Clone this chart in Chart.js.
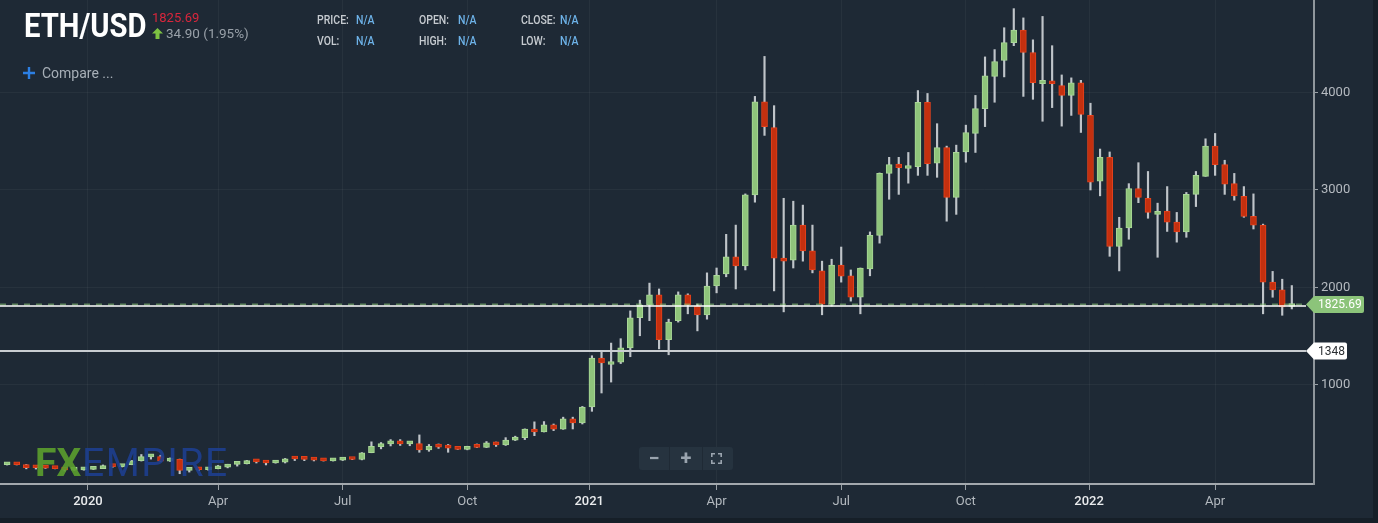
<!DOCTYPE html>
<html>
<head>
<meta charset="utf-8">
<script src="https://cdn.jsdelivr.net/npm/chart.js@4.4.1/dist/chart.umd.min.js"></script>
<style>
  html, body { margin: 0; padding: 0; width: 1378px; height: 523px; overflow: hidden; background: #161f28; font-family: Roboto, sans-serif; }
  #wrap { position: absolute; left: 0; top: 0; width: 1373px; height: 518px; background: #1e2935; }
  #chart { position: absolute; left: 0; top: 0; }
  .t { position: absolute; white-space: nowrap; line-height: 1; transform-origin: left top; }
  .sym { left: 24px; top: 8px; font-size: 34px; font-weight: 700; color: #ffffff; transform: scaleX(0.86); }
  .last { left: 152px; top: 11px; font-size: 13px; color: #d9263c; }
  .chg { left: 166px; top: 27px; font-size: 13.5px; color: #99a1a9; }
  .arrow { position: absolute; left: 152px; top: 28px; }
  .lbl { font-size: 12.5px; font-weight: 500; color: #c6cbd0; transform: scaleX(0.84); }
  .val { font-size: 12.5px; font-weight: 500; color: #6db2e8; transform: scaleX(0.84); }
  .plus { position: absolute; left: 23px; top: 67px; }
  .cmp { left: 42px; top: 66px; font-size: 14px; color: #a7afb7; }
  .wm { top: 444px; font-size: 39px; opacity: 0.9; }
  #zoomBox { position: absolute; left: 639px; top: 447px; width: 94px; height: 23px; background: #26333f; border-radius: 3px; }
  #zoomBox span { position: absolute; top: 0; height: 23px; line-height: 23px; text-align: center; color: #9aa4ae; font-size: 20px; font-weight: 700; }
  #zoomBox .sep { position: absolute; top: 0; width: 1px; height: 23px; background: #1f2a35; }
</style>
</head>
<body>
<div id="wrap">
  <canvas id="chart" width="1373" height="518"></canvas>

  <div class="t sym">ETH/USD</div>
  <div class="t last">1825.69</div>
  <svg class="arrow" width="11" height="11" viewBox="0 0 11 11"><path d="M5.5 0 L11 5.5 L7.5 5.5 L7.5 11 L3.5 11 L3.5 5.5 L0 5.5 Z" fill="#7dc242"/></svg>
  <div class="t chg">34.90 (1.95%)</div>

  <div class="t lbl" style="left:317px;top:14px">PRICE:</div>
  <div class="t val" style="left:356px;top:14px">N/A</div>
  <div class="t lbl" style="left:419px;top:14px">OPEN:</div>
  <div class="t val" style="left:458px;top:14px">N/A</div>
  <div class="t lbl" style="left:521px;top:14px">CLOSE:</div>
  <div class="t val" style="left:560px;top:14px">N/A</div>
  <div class="t lbl" style="left:317px;top:35px">VOL:</div>
  <div class="t val" style="left:356px;top:35px">N/A</div>
  <div class="t lbl" style="left:419px;top:35px">HIGH:</div>
  <div class="t val" style="left:458px;top:35px">N/A</div>
  <div class="t lbl" style="left:521px;top:35px">LOW:</div>
  <div class="t val" style="left:560px;top:35px">N/A</div>

  <svg class="plus" width="12" height="12" viewBox="0 0 12 12"><path d="M6 0 V12 M0 6 H12" stroke="#2c7fe3" stroke-width="2.4"/></svg>
  <div class="t cmp">Compare ...</div>

  <div class="t wm" style="left:35px;font-weight:700;color:#5b9f2e">FX</div>
  <div class="t wm" style="left:82px;font-weight:400;color:#1d3f8f;letter-spacing:1.5px">EMPIRE</div>

  <div id="zoomBox">
    <span style="left:0;width:30px">−</span>
    <div class="sep" style="left:30px"></div>
    <span style="left:31px;width:32px">+</span>
    <div class="sep" style="left:63px"></div>
    <svg style="position:absolute;left:72px;top:6px" width="11" height="11" viewBox="0 0 11 11"><path d="M0.8 4 V0.8 H4 M7 0.8 H10.2 V4 M10.2 7 V10.2 H7 M4 10.2 H0.8 V7" stroke="#9aa4ae" stroke-width="1.6" fill="none"/></svg>
  </div>
</div>

<script>
// Weekly ETH/USD candles (week starting Sunday)
const weekStart = [
  '2019-11-03', '2019-11-10', '2019-11-17', '2019-11-24', '2019-12-01', '2019-12-08', '2019-12-15', '2019-12-22', '2019-12-29',
  '2020-01-05', '2020-01-12', '2020-01-19', '2020-01-26', '2020-02-02', '2020-02-09', '2020-02-16', '2020-02-23',
  '2020-03-01', '2020-03-08', '2020-03-15', '2020-03-22', '2020-03-29', '2020-04-05', '2020-04-12', '2020-04-19', '2020-04-26',
  '2020-05-03', '2020-05-10', '2020-05-17', '2020-05-24', '2020-05-31', '2020-06-07', '2020-06-14', '2020-06-21', '2020-06-28',
  '2020-07-05', '2020-07-12', '2020-07-19', '2020-07-26', '2020-08-02', '2020-08-09', '2020-08-16', '2020-08-23', '2020-08-30',
  '2020-09-06', '2020-09-13', '2020-09-20', '2020-09-27', '2020-10-04', '2020-10-11', '2020-10-18', '2020-10-25',
  '2020-11-01', '2020-11-08', '2020-11-15', '2020-11-22', '2020-11-29', '2020-12-06', '2020-12-13', '2020-12-20', '2020-12-27',
  '2021-01-03', '2021-01-10', '2021-01-17', '2021-01-24', '2021-01-31', '2021-02-07', '2021-02-14', '2021-02-21', '2021-02-28',
  '2021-03-07', '2021-03-14', '2021-03-21', '2021-03-28', '2021-04-04', '2021-04-11', '2021-04-18', '2021-04-25',
  '2021-05-02', '2021-05-09', '2021-05-16', '2021-05-23', '2021-05-30', '2021-06-06', '2021-06-13', '2021-06-20', '2021-06-27',
  '2021-07-04', '2021-07-11', '2021-07-18', '2021-07-25', '2021-08-01', '2021-08-08', '2021-08-15', '2021-08-22', '2021-08-29',
  '2021-09-05', '2021-09-12', '2021-09-19', '2021-09-26', '2021-10-03', '2021-10-10', '2021-10-17', '2021-10-24', '2021-10-31',
  '2021-11-07', '2021-11-14', '2021-11-21', '2021-11-28', '2021-12-05', '2021-12-12', '2021-12-19', '2021-12-26',
  '2022-01-02', '2022-01-09', '2022-01-16', '2022-01-23', '2022-01-30', '2022-02-06', '2022-02-13', '2022-02-20', '2022-02-27',
  '2022-03-06', '2022-03-13', '2022-03-20', '2022-03-27', '2022-04-03', '2022-04-10', '2022-04-17', '2022-04-24',
  '2022-05-01', '2022-05-08', '2022-05-15', '2022-05-22', '2022-05-29'
];

const openPx = [
  182, 185, 182, 152, 151, 148, 142, 127, 129,
  134, 143, 171, 162, 182, 223, 262, 266,
  219, 238, 124, 132, 131, 141, 158, 186, 194,
  213, 211, 200, 208, 243, 241, 237, 229, 222,
  229, 241, 236, 305, 368, 395, 428, 396, 400,
  335, 370, 362, 352, 340, 366, 360, 408,
  386, 435, 461, 548, 518, 592, 548, 652, 612,
  774, 1277, 1210, 1235, 1380, 1690, 1820, 1925, 1465,
  1660, 1925, 1810, 1720, 2015, 2140, 2315, 2220,
  2950, 3905, 3640, 2300, 2280, 2640, 2375, 2170, 1830,
  2230, 2120, 1900, 2190, 2535, 3170, 3265, 3220, 3240,
  3900, 3275, 3435, 2925, 3390, 3580, 3835, 4165, 4328,
  4510, 4640, 4410, 4090, 4120, 4070, 3970, 4100,
  3765, 3090, 3335, 2420, 2610, 3015, 2915, 2750, 2785,
  2670, 2570, 2955, 3140, 3450, 3260, 3065, 2935,
  2730, 2640, 2055, 1975, 1805
];

const highPx = [
  193, 192, 185, 158, 153, 152, 143, 135, 137,
  148, 180, 175, 184, 226, 287, 285, 280,
  252, 240, 140, 138, 147, 175, 187, 195, 227,
  216, 212, 215, 247, 250, 250, 240, 247, 232,
  248, 244, 307, 417, 410, 440, 440, 410, 488,
  390, 395, 390, 365, 372, 395, 420, 415,
  460, 475, 550, 622, 625, 600, 670, 670, 780,
  1300, 1340, 1430, 1475, 1760, 1870, 2045, 1985, 1675,
  1955, 1935, 1830, 2150, 2200, 2545, 2640, 2960,
  3960, 4370, 3865, 2915, 2885, 2845, 2640, 2270, 2290,
  2415, 2180, 2200, 2570, 3175, 3335, 3335, 3385, 4020,
  3990, 3680, 3450, 3460, 3665, 3970, 4365, 4440, 4664,
  4860, 4765, 4540, 4780, 4480, 4180, 4150, 4125,
  3890, 3420, 3390, 2720, 3065, 3280, 3190, 2865, 3035,
  2770, 2975, 3190, 3525, 3580, 3305, 3170, 3035,
  2960, 2650, 2165, 2085, 2020
];

const lowPx = [
  179, 180, 140, 138, 144, 140, 117, 124, 126,
  133, 142, 156, 159, 182, 220, 240, 214,
  216, 90, 107, 122, 125, 140, 150, 168, 190,
  200, 180, 198, 200, 225, 224, 221, 220, 220,
  225, 234, 232, 305, 345, 375, 380, 377, 310,
  320, 350, 310, 338, 335, 358, 358, 370,
  380, 430, 440, 480, 518, 532, 545, 549, 600,
  730, 918, 1030, 1220, 1290, 1505, 1660, 1370, 1310,
  1645, 1730, 1555, 1675, 1945, 2110, 1985, 2180,
  2875, 3560, 1965, 1750, 2200, 2270, 2150, 1720, 1810,
  2055, 1860, 1730, 2120, 2455, 2905, 2955, 3070, 3150,
  3150, 3130, 2680, 2750, 3285, 3385, 3650, 3900, 4160,
  4480, 3960, 3930, 3705, 3845, 3655, 3765, 3590,
  3000, 2940, 2320, 2170, 2495, 2870, 2710, 2310, 2575,
  2465, 2515, 2830, 3140, 3150, 2955, 2895, 2720,
  2600, 1730, 1900, 1715, 1780
];

const closePx = [
  185, 182, 152, 151, 148, 142, 128, 129, 134,
  143, 171, 162, 182, 223, 265, 266, 219,
  238, 124, 132, 131, 141, 158, 186, 194, 213,
  211, 200, 208, 243, 241, 237, 229, 222, 229,
  241, 236, 305, 372, 395, 428, 396, 400, 335,
  370, 362, 352, 340, 366, 360, 408, 386,
  435, 461, 548, 518, 592, 548, 652, 612, 774,
  1277, 1226, 1235, 1380, 1690, 1820, 1925, 1465, 1645,
  1925, 1820, 1720, 2015, 2125, 2315, 2220, 2950,
  3905, 3650, 2300, 2270, 2640, 2375, 2180, 1830, 2230,
  2115, 1900, 2200, 2535, 3170, 3260, 3230, 3250, 3900,
  3270, 3435, 2925, 3385, 3590, 3835, 4170, 4318, 4512,
  4640, 4410, 4100, 4125, 4090, 3970, 4100, 3775,
  3080, 3335, 2420, 2610, 3015, 2925, 2770, 2780, 2670,
  2570, 2955, 3150, 3450, 3260, 3060, 2940, 2730,
  2640, 2055, 1975, 1800, 1826
];

const tickDates = ['2020-01-01', '2020-04-05', '2020-07-05', '2020-10-04', '2021-01-01',
                   '2021-04-04', '2021-07-04', '2021-10-03', '2022-01-01', '2022-04-03'];
const tickLabels = ['2020', 'Apr', 'Jul', 'Oct', '2021', 'Apr', 'Jul', 'Oct', '2022', 'Apr'];
const yTicks = [1000, 2000, 3000, 4000];

const lastPrice = 1825.69;
const refLevel = 1348;

const UP_FILL = '#8fc47b', UP_EDGE = '#aad898';
const DN_FILL = '#c4300f', DN_EDGE = '#e5421c';
const WICK = '#bfc4c9';
const GRID = 'rgba(255,255,255,0.045)';

const EPOCH = Date.UTC(2020, 0, 1);
const dayNum = s => (Date.parse(s) - EPOCH) / 86400000;
const isUp = i => closePx[i] >= openPx[i];

// horizontal price levels + tags on the price axis
function drawTag(ctx, tipX, yc, text, fill, color, rightX) {
  const h = 17, r = 2;
  const top = yc - h / 2, bot = yc + h / 2;
  ctx.beginPath();
  ctx.moveTo(tipX, yc);
  ctx.lineTo(tipX + 8, top);
  ctx.lineTo(rightX - r, top);
  ctx.quadraticCurveTo(rightX, top, rightX, top + r);
  ctx.lineTo(rightX, bot - r);
  ctx.quadraticCurveTo(rightX, bot, rightX - r, bot);
  ctx.lineTo(tipX + 8, bot);
  ctx.closePath();
  ctx.fillStyle = fill;
  ctx.fill();
  ctx.fillStyle = color;
  ctx.font = '12px Roboto';
  ctx.textBaseline = 'middle';
  ctx.textAlign = 'left';
  ctx.fillText(text, tipX + 12, yc + 0.5);
}

const levelsPlugin = {
  id: 'levels',
  afterDatasetsDraw(chart) {
    const { ctx, chartArea, scales: { y } } = chart;
    const yRef = y.getPixelForValue(refLevel);
    const yLast = y.getPixelForValue(lastPrice);
    const tipX = chartArea.right - 8;
    ctx.save();
    ctx.lineWidth = 2;
    ctx.strokeStyle = '#c9cdd1';
    ctx.beginPath(); ctx.moveTo(chartArea.left, yRef); ctx.lineTo(tipX, yRef); ctx.stroke();

    ctx.setLineDash([6, 6]);
    ctx.strokeStyle = 'rgba(140,196,122,0.6)';
    ctx.beginPath(); ctx.moveTo(chartArea.left, yLast); ctx.lineTo(tipX, yLast); ctx.stroke();
    ctx.setLineDash([]);
    ctx.lineWidth = 1.5;
    ctx.strokeStyle = '#ffffff';
    ctx.beginPath(); ctx.moveTo(chartArea.left, yLast + 1.5); ctx.lineTo(tipX, yLast + 1.5); ctx.stroke();

    drawTag(ctx, tipX, yLast, lastPrice.toFixed(2), '#8cc47a', '#ffffff', tipX + 58);
    drawTag(ctx, tipX, yRef, String(refLevel), '#ffffff', '#2b2f33', tipX + 41);
    ctx.restore();
  }
};

function initChart() {
  const bodies = weekStart.map((d, i) => ({ x: dayNum(d), y: [openPx[i], closePx[i]] }));
  const wicks = weekStart.map((d, i) => ({ x: dayNum(d), y: [lowPx[i], highPx[i]] }));

  new Chart(document.getElementById('chart').getContext('2d'), {
    type: 'bar',
    data: {
      datasets: [{
        label: 'Body',
        data: bodies,
        order: 0,
        grouped: false,
        barThickness: 6,
        minBarLength: 3,
        borderSkipped: false,
        borderWidth: 1,
        backgroundColor: c => isUp(c.dataIndex) ? UP_FILL : DN_FILL,
        borderColor: c => isUp(c.dataIndex) ? UP_EDGE : DN_EDGE
      }, {
        label: 'Wick',
        data: wicks,
        order: 1,
        grouped: false,
        barThickness: 1.5,
        borderWidth: 0,
        backgroundColor: WICK
      }]
    },
    options: {
      responsive: false,
      animation: false,
      layout: { padding: 0 },
      plugins: {
        legend: { display: false },
        tooltip: { enabled: false }
      },
      scales: {
        x: {
          type: 'linear',
          min: -64.2,
          max: 895.2,
          offset: false,
          afterBuildTicks: axis => { axis.ticks = tickDates.map(d => ({ value: dayNum(d) })); },
          afterFit: axis => { axis.height = 34; axis.paddingLeft = 0; axis.paddingRight = 0; },
          grid: { offset: false, color: GRID, tickColor: '#9aa0a6', tickLength: 6 },
          border: { color: '#a3a8ad', width: 2 },
          ticks: {
            autoSkip: false,
            maxRotation: 0,
            padding: 4,
            font: c => ({ family: 'Roboto', size: 13, weight: tickLabels[c.index] && tickLabels[c.index].length === 4 ? '500' : '400' }),
            color: c => tickLabels[c.index] && tickLabels[c.index].length === 4 ? '#e9ebed' : '#b3b9bf',
            callback: (v, i) => tickLabels[i]
          }
        },
        y: {
          position: 'right',
          min: -15.4,
          max: 4948.6,
          afterBuildTicks: axis => { axis.ticks = yTicks.map(v => ({ value: v })); },
          afterFit: axis => { axis.width = 59; axis.paddingTop = 0; axis.paddingBottom = 0; },
          grid: { color: GRID, tickColor: '#9aa0a6', tickLength: 4 },
          border: { color: '#8f969c', width: 2 },
          ticks: {
            padding: 3,
            color: '#b5bac0',
            font: { family: 'Roboto', size: 13 },
            callback: v => String(v)
          }
        }
      }
    },
    plugins: [levelsPlugin]
  });
}

document.addEventListener('DOMContentLoaded', initChart);
</script>
</body>
</html>
